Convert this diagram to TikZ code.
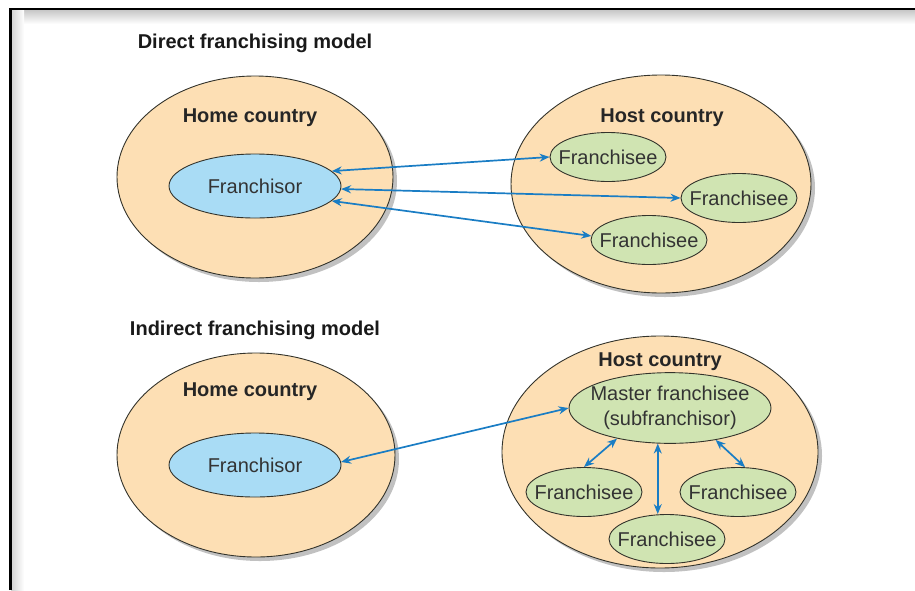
\documentclass[tikz,border=0pt]{standalone}
\usepackage{fontspec}
\setmainfont{Liberation Sans}
\usetikzlibrary{shapes.geometric,arrows.meta,shadows,calc}

\definecolor{peach}{HTML}{FDDFB4}
\definecolor{skyfill}{HTML}{A9DCF5}
\definecolor{leaf}{HTML}{D0E4B2}
\definecolor{edge}{HTML}{33332B}
\definecolor{txt}{HTML}{333333}
\definecolor{linkblue}{HTML}{1A7DC4}

% zero-width box so the ellipse size is set only by its minimum dimensions
\newcommand\nowidth[1]{\makebox[0pt]{#1}}

\begin{document}
\begin{tikzpicture}[x=1pt,y=-1pt,
  every node/.style={font=\fontsize{20}{25}\selectfont, text=txt},
  titletext/.style={font=\bfseries\fontsize{20}{25}\selectfont, text=black!90},
  labeltext/.style={font=\bfseries\fontsize{20}{25}\selectfont, text=black!85},
  country/.style={ellipse, draw=edge, line width=0.9pt, fill=peach, inner sep=0pt,
    drop shadow={shadow xshift=4pt, shadow yshift=-4pt, opacity=0.35, fill=black!70}},
  hub/.style={ellipse, draw=edge, line width=0.9pt, fill=skyfill, inner sep=0pt,
    minimum width=172pt, minimum height=64pt},
  unit/.style={ellipse, draw=edge, line width=0.9pt, fill=leaf, inner sep=0pt,
    minimum width=116pt, minimum height=49pt},
  link/.style={draw=linkblue, line width=1.7pt,
    {Stealth[length=10pt,width=8pt]}-{Stealth[length=10pt,width=8pt]}}
]
\useasboundingbox (0,0) rectangle (915,590);

% outer frame with its soft inner shadow
\shade[top color=black!22, bottom color=white] (11,10) rectangle (915,24);
\shade[left color=black!18, right color=white] (11,10) rectangle (24,590);
\draw[line width=2.8pt] (10.7,590) -- (10.7,9) -- (915,9);

% ---------- direct franchising ----------
\node[titletext] (t1) at (255,43) {Direct franchising model};

\node[country, minimum width=276pt, minimum height=202pt] (home1) at (255,177) {};
\node[labeltext] (home1lab) at (250,118) {Home country};
\node[hub] (fr1) at (255,186) {\nowidth{Franchisor}};

\node[country, minimum width=300pt, minimum height=218pt] (host1) at (661,184) {};
\node[labeltext] (host1lab) at (662,118) {Host country};
\node[unit] (fe1) at (608,157) {\nowidth{Franchisee}};
\node[unit] (fe2) at (739,198) {\nowidth{Franchisee}};
\node[unit] (fe3) at (649,240) {\nowidth{Franchisee}};

\draw[link] (fr1.11) -- (fe1.west);
\draw[link] (fr1.-2) -- (fe2.west);
\draw[link] (fr1.-11) -- (fe3.176);

% ---------- indirect franchising ----------
\node[titletext] (t2) at (255,330) {Indirect franchising model};

\node[country, minimum width=278pt, minimum height=204pt] (home2) at (256,455) {};
\node[labeltext] (home2lab) at (250,392) {Home country};
\node[hub] (fr2) at (255,465) {\nowidth{Franchisor}};

\node[country, minimum width=316pt, minimum height=232pt] (host2) at (660,452) {};
\node[labeltext] (host2lab) at (660,362) {Host country};
\node[unit, minimum width=202pt, minimum height=70pt] (ms) at (670,408)
  {\nowidth{\begin{tabular}{@{}c@{}}Master franchisee\\(subfranchisor)\end{tabular}}};
\node[unit] (fl) at (584,492) {\nowidth{Franchisee}};
\node[unit] (fr) at (738,492) {\nowidth{Franchisee}};
\node[unit] (fb) at (667,539) {\nowidth{Franchisee}};

\draw[link] (fr2.2) -- (ms.west);
\draw[link] (ms.210) -- (fl.north);
\draw[link] (ms.251) -- (ms.251 |- fb.north);
\draw[link] (ms.325) -- (fr.74);
\end{tikzpicture}
\end{document}
